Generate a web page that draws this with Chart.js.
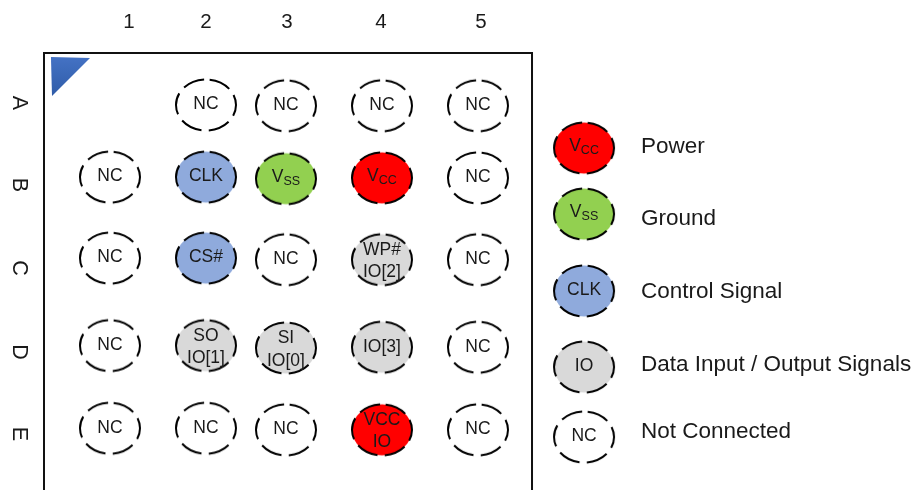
<!DOCTYPE html>
<html>
<head>
<meta charset="utf-8">
<title>Ball map</title>
<script src="https://cdn.jsdelivr.net/npm/chart.js@4"></script>
<style>
  html, body { margin: 0; padding: 0; background: #fff; }
  canvas { display: block; }
</style>
</head>
<body>
<canvas id="ballChart" width="915" height="490"></canvas>
<script>
// Balls: column / row (the grid is not quite even)
const pinCol = [
  2, 2.833, 3.833, 4.833,
  1, 2, 2.833, 3.833, 4.833,
  1, 2, 2.833, 3.833, 4.833,
  1, 2, 2.833, 3.833, 4.833,
  1, 2, 2.833, 3.833, 4.833
];
const pinRow = [
  1, 1.01, 1.01, 1.01,
  1.89, 1.89, 1.91, 1.9, 1.9,
  2.89, 2.89, 2.91, 2.91, 2.91,
  3.97, 3.97, 4, 3.99, 3.99,
  4.99, 4.99, 5.01, 5.01, 5.01
];
const pinLabel = [
  'NC', 'NC', 'NC', 'NC',
  'NC', 'CLK', 'V_SS', 'V_CC', 'NC',
  'NC', 'CS#', 'NC', 'WP#\nIO[2]', 'NC',
  'NC', 'SO\nIO[1]', 'SI\nIO[0]', 'IO[3]', 'NC',
  'NC', 'NC', 'NC', 'VCC\nIO', 'NC'
];
const pinKind = [
  'nc', 'nc', 'nc', 'nc',
  'nc', 'ctrl', 'gnd', 'pwr', 'nc',
  'nc', 'ctrl', 'nc', 'io', 'nc',
  'nc', 'io', 'io', 'io', 'nc',
  'nc', 'nc', 'nc', 'pwr', 'nc'
];

const colLabels = ['1', '2', '3', '4', '5'];
const colLabelPos = [1.198, 2, 2.844, 3.823, 4.865];
const colLabelRow = -0.025;
const rowLabels = ['A', 'B', 'C', 'D', 'E'];
const rowLabelPos = [0.975, 1.988, 3.012, 4.049, 5.062];
const rowLabelCol = 0.052;

const legendSymbol = ['V_CC', 'V_SS', 'CLK', 'IO', 'NC'];
const legendKind = ['pwr', 'gnd', 'ctrl', 'io', 'nc'];
const legendCol = [5.938, 5.938, 5.938, 5.938, 5.938];
const legendRow = [1.531, 2.346, 3.296, 4.235, 5.099];
const legendText = ['Power', 'Ground', 'Control Signal', 'Data Input / Output Signals', 'Not Connected'];
const legendTextCol = 6.531;
const legendTextRow = [1.518, 2.407, 3.308, 4.21, 5.037];

const frameCol = [0.3125, 0.3125, 5.396, 5.396];
const frameRow = [5.753, 0.358, 0.358, 5.753];
const markCol = [0.385, 0.792, 0.396, 0.385];
const markRow = [0.407, 0.42, 0.889, 0.407];

const kindFill = { pwr: '#ff0000', gnd: '#92d050', ctrl: '#8faadc', io: '#d9d9d9', nc: '#ffffff' };
const textColor = '#1a1a1a';
const fontName = '"Liberation Sans", Arial, sans-serif';

function xy(xs, ys) {
  return xs.map((x, i) => ({ x: x, y: ys[i] }));
}

// dashed oval used as point style
function makeBall(fill) {
  const c = document.createElement('canvas');
  c.width = 70;
  c.height = 60;
  const g = c.getContext('2d');
  const period = 29.3;
  g.beginPath();
  g.ellipse(35, 30, 30, 25.5, 0, -Math.PI / 2, Math.PI * 1.5);
  g.fillStyle = fill;
  g.fill();
  g.setLineDash([period - 7.5, 7.5]);
  g.lineDashOffset = -3.75;
  g.lineWidth = 2;
  g.strokeStyle = '#000';
  g.stroke();
  return c;
}
const balls = {};
Object.keys(kindFill).forEach(k => { balls[k] = makeBall(kindFill[k]); });

// one line of ball text, "_" starts a subscript
function drawBallLine(ctx, text, x, y) {
  const parts = text.split('_');
  ctx.textBaseline = 'middle';
  ctx.fillStyle = textColor;
  if (parts.length === 1) {
    ctx.font = '17.5px ' + fontName;
    ctx.textAlign = 'center';
    ctx.fillText(text, x, y);
    return;
  }
  ctx.textAlign = 'left';
  ctx.font = '17.5px ' + fontName;
  const w1 = ctx.measureText(parts[0]).width;
  ctx.font = '12.5px ' + fontName;
  const w2 = ctx.measureText(parts[1]).width;
  const left = x - (w1 + w2) / 2;
  ctx.font = '17.5px ' + fontName;
  ctx.fillText(parts[0], left, y - 1.5);
  ctx.font = '12.5px ' + fontName;
  ctx.fillText(parts[1], left + w1, y + 3.5);
}

function drawBallText(ctx, text, x, y) {
  const lines = text.split('\n');
  const shift = lines.length > 1 ? 1.5 : -0.5;
  lines.forEach((line, i) => {
    drawBallLine(ctx, line, x, y + shift + (i - (lines.length - 1) / 2) * 22.5);
  });
}

const textPlugin = {
  id: 'textPlugin',
  afterDatasetsDraw(chart) {
    const ctx = chart.ctx;
    const xs = chart.scales.x;
    const ys = chart.scales.y;
    ctx.save();

    chart.getDatasetMeta(2).data.forEach((el, i) => drawBallText(ctx, pinLabel[i], el.x, el.y));
    chart.getDatasetMeta(3).data.forEach((el, i) => drawBallText(ctx, legendSymbol[i], el.x, el.y));

    ctx.fillStyle = textColor;
    ctx.textBaseline = 'middle';
    ctx.font = '20.5px ' + fontName;
    ctx.textAlign = 'center';
    colLabels.forEach((t, i) => {
      ctx.fillText(t, xs.getPixelForValue(colLabelPos[i]), ys.getPixelForValue(colLabelRow));
    });
    ctx.font = '21.5px ' + fontName;
    rowLabels.forEach((t, i) => {
      ctx.save();
      ctx.translate(xs.getPixelForValue(rowLabelCol), ys.getPixelForValue(rowLabelPos[i]));
      ctx.rotate(Math.PI / 2);
      ctx.fillText(t, 0, 0);
      ctx.restore();
    });

    ctx.font = '22.5px ' + fontName;
    ctx.textAlign = 'left';
    legendText.forEach((t, i) => {
      ctx.fillText(t, xs.getPixelForValue(legendTextCol), ys.getPixelForValue(legendTextRow[i]));
    });
    ctx.restore();
  }
};

const ctx = document.getElementById('ballChart').getContext('2d');
const markGradient = ctx.createLinearGradient(0, 57, 0, 96);
markGradient.addColorStop(0, '#4472c4');
markGradient.addColorStop(1, '#2f5ca8');

new Chart(ctx, {
  type: 'scatter',
  data: {
    datasets: [
      {
        label: 'frame',
        data: xy(frameCol, frameRow),
        showLine: true,
        borderColor: '#111111',
        borderWidth: 2,
        pointRadius: 0
      },
      {
        label: 'ball 1 mark',
        data: xy(markCol, markRow),
        showLine: true,
        fill: 'shape',
        backgroundColor: markGradient,
        borderWidth: 0,
        pointRadius: 0
      },
      {
        label: 'balls',
        data: xy(pinCol, pinRow),
        pointStyle: pinKind.map(k => balls[k]),
        pointRadius: 30
      },
      {
        label: 'legend',
        data: xy(legendCol, legendRow),
        pointStyle: legendKind.map(k => balls[k]),
        pointRadius: 30
      }
    ]
  },
  options: {
    responsive: false,
    animation: false,
    layout: { padding: 0, autoPadding: false },
    plugins: {
      legend: { display: false },
      tooltip: { enabled: false }
    },
    scales: {
      x: { type: 'linear', display: false, min: -0.1458, max: 9.3854 },
      y: { type: 'linear', display: false, reverse: true, min: -0.2963, max: 5.753 }
    }
  },
  plugins: [textPlugin]
});
</script>
</body>
</html>
